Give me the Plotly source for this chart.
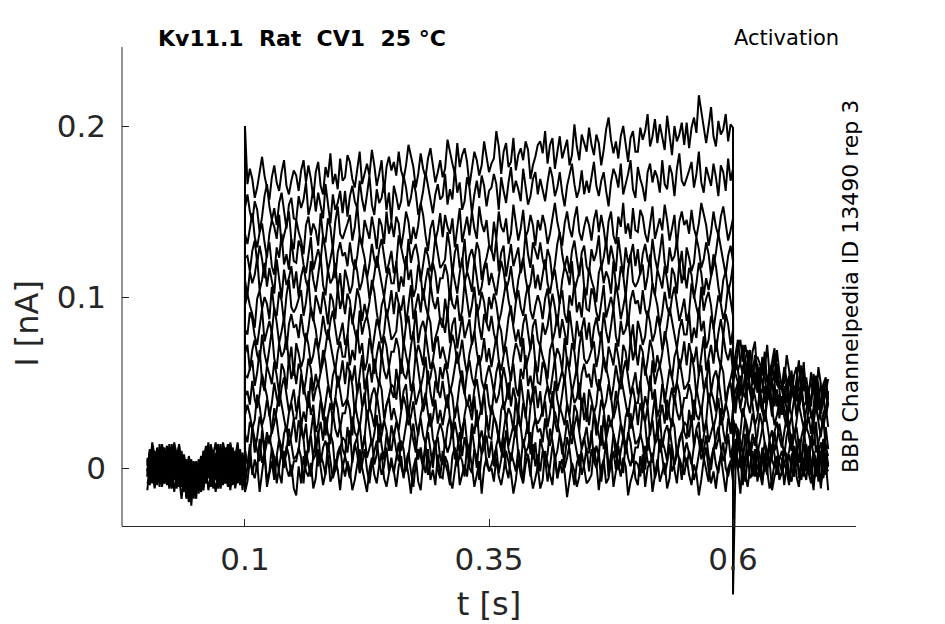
import numpy as np
import plotly.graph_objects as go

# sweep currents in pA, read off the figure, sampled every 2.5 ms
# pre: t = 0 .. 0.1 s (41 samples), step: 0.1 .. 0.6 s (201), tail: 0.6 .. 0.6975 s (40)
pre_01 = [-3, 10, 6, -4, -9, 2, 12, -7, 0, 5, -2, 13, 4, -8, -6, 2, -17, -2, 4, -4,
          -18, -1, -11, 10, 1, -2, 6, -9, -3, 14, 3, -7, 0, 11, -5, -1, 8, 2, -10, 5, 2]
step_01 = [200,
           166, 175, 169, 158, 164, 174, 182, 171, 163, 157, 170, 177, 167, 162, 173, 180, 165, 160, 168, 174,
           171, 162, 174, 180, 167, 177, 169, 158, 173, 179, 165, 160, 176, 170, 184, 166, 172, 163, 181, 168,
           170, 183, 179, 169, 164, 175, 185, 166, 173, 178, 171, 186, 177, 165, 172, 180, 161, 176, 182, 174,
           179, 171, 185, 174, 169, 177, 189, 183, 176, 164, 172, 184, 175, 170, 181, 187, 178, 167, 173, 180,
           170, 175, 192, 184, 178, 172, 190, 176, 183, 187, 179, 165, 174, 185, 180, 171, 177, 191, 182, 173,
           178, 181, 197, 188, 172, 185, 190, 176, 179, 193, 174, 183, 187, 180, 191, 186, 169, 177, 182, 189,
           191, 184, 197, 178, 189, 193, 175, 186, 194, 181, 187, 192, 177, 183, 201, 188, 180, 195, 190, 185,
           199, 189, 183, 195, 190, 177, 186, 198, 205, 192, 184, 191, 181, 194, 200, 188, 179, 193, 197, 185,
           185, 199, 192, 197, 207, 188, 194, 204, 190, 201, 193, 186, 206, 196, 183, 200, 191, 195, 202, 189,
           202, 187, 199, 205, 196, 218, 208, 197, 190, 200, 211, 194, 188, 203, 195, 198, 207, 191, 201, 199]
tail_01 = [57, 66, 75, 61, 55, 64, 69, 58, 49, 63, 65, 61, 54, 68, 50, 56, 62, 70, 53, 48,
           46, 59, 52, 48, 57, 40, 53, 63, 43, 50, 53, 42, 56, 46, 40, 59, 49, 44, 51, 37]

pre_02 = [5, -10, 2, 8, -1, -5, 11, 0, -7, 3, 14, -3, -9, 6, -7, -4, 5, -11, -1, -18,
          0, -7, 6, -8, 3, 7, -11, 0, 8, -5, 1, 6, -9, -3, 15, 2, -6, 9, 4, -1, -1]
step_02 = [152,
           160, 150, 144, 156, 151, 138, 147, 159, 166, 153, 145, 152, 142, 155, 161, 149, 140, 154, 158, 146,
           145, 159, 152, 157, 167, 148, 154, 164, 150, 161, 153, 146, 166, 156, 143, 160, 151, 155, 162, 149,
           162, 147, 159, 165, 156, 152, 168, 157, 150, 160, 171, 154, 148, 163, 155, 158, 167, 151, 161, 144,
           165, 159, 151, 156, 171, 164, 153, 158, 168, 161, 148, 154, 162, 173, 165, 155, 149, 160, 166, 157,
           159, 172, 154, 163, 157, 175, 161, 167, 151, 156, 170, 164, 149, 160, 168, 158, 171, 165, 153, 162,
           164, 172, 166, 151, 170, 162, 155, 167, 176, 161, 168, 163, 156, 175, 165, 154, 159, 169, 173, 160,
           169, 162, 156, 167, 176, 170, 159, 164, 173, 161, 153, 165, 172, 178, 166, 158, 163, 174, 160, 168,
           161, 170, 179, 165, 159, 168, 173, 162, 153, 167, 175, 171, 164, 178, 160, 166, 172, 180, 163, 158,
           176, 169, 164, 156, 173, 178, 167, 174, 170, 161, 180, 166, 163, 177, 172, 159, 175, 184, 168, 165,
           169, 174, 179, 164, 172, 185, 167, 161, 176, 171, 165, 178, 170, 159, 177, 173, 162, 181, 168, 175]
tail_02 = [66, 57, 69, 75, 62, 72, 64, 53, 68, 74, 53, 48, 64, 58, 72, 54, 60, 51, 69, 56,
           47, 50, 66, 57, 41, 54, 59, 45, 48, 62, 37, 46, 50, 43, 54, 49, 32, 40, 45, 52]

pre_03 = [-1, 4, 9, -6, 2, 10, -3, -9, 6, 1, -5, 8, 0, -11, 2, -2, -13, 6, -7, 0,
          -1, -8, -14, 2, 11, 5, -6, -1, 8, -4, -12, 0, 7, 13, 1, -7, -2, 9, -5, 3, 1]
step_03 = [137,
           131, 140, 149, 135, 129, 138, 143, 132, 123, 137, 145, 141, 134, 148, 130, 136, 142, 150, 133, 128,
           145, 138, 133, 125, 142, 147, 136, 143, 139, 130, 149, 135, 132, 146, 141, 128, 144, 153, 137, 134,
           138, 143, 148, 133, 141, 154, 136, 130, 145, 140, 134, 147, 139, 128, 146, 142, 131, 150, 137, 144,
           135, 147, 143, 129, 138, 150, 144, 131, 141, 134, 142, 155, 148, 136, 127, 140, 145, 133, 139, 149,
           135, 148, 141, 137, 146, 129, 142, 152, 132, 139, 147, 136, 150, 140, 134, 153, 143, 138, 145, 131,
           127, 144, 134, 150, 141, 138, 146, 131, 137, 154, 143, 133, 140, 151, 135, 139, 148, 142, 130, 145,
           139, 148, 142, 131, 137, 147, 155, 144, 136, 130, 143, 150, 140, 135, 146, 153, 138, 133, 141, 147,
           142, 133, 145, 151, 138, 148, 140, 129, 144, 150, 136, 131, 147, 141, 155, 137, 143, 134, 152, 139,
           138, 151, 147, 137, 132, 143, 153, 134, 141, 146, 139, 154, 145, 133, 140, 148, 129, 144, 150, 142,
           145, 137, 151, 140, 135, 143, 155, 149, 142, 130, 138, 150, 141, 136, 147, 153, 144, 133, 139, 146]
tail_03 = [50, 64, 57, 62, 72, 53, 59, 69, 55, 66, 52, 45, 65, 55, 42, 59, 50, 54, 61, 48,
           48, 56, 50, 35, 54, 46, 39, 51, 60, 45, 48, 43, 36, 55, 45, 34, 39, 49, 53, 40]

pre_04 = [3, -5, 9, -2, -7, 1, 13, 7, 0, -12, -4, 8, -1, -6, 0, 6, -3, -14, -8, -1,
          -7, 2, -4, -10, -4, 6, 14, 3, -5, -11, 2, 9, -1, -6, 5, 12, -3, -8, 0, 6, -2]
step_04 = [123,
           124, 115, 127, 133, 120, 130, 122, 111, 126, 132, 118, 113, 129, 123, 137, 119, 125, 116, 134, 121,
           120, 133, 129, 119, 114, 125, 135, 116, 123, 128, 121, 136, 127, 115, 122, 130, 111, 126, 132, 124,
           126, 118, 132, 121, 116, 124, 136, 130, 123, 111, 119, 131, 122, 117, 128, 134, 125, 114, 120, 127,
           114, 119, 136, 128, 122, 116, 134, 120, 127, 131, 123, 109, 118, 129, 124, 115, 121, 135, 126, 117,
           119, 122, 138, 129, 113, 126, 131, 117, 120, 134, 115, 124, 128, 121, 132, 127, 110, 118, 123, 130,
           128, 121, 134, 115, 126, 130, 112, 123, 131, 118, 124, 129, 114, 120, 138, 125, 117, 132, 127, 122,
           132, 122, 116, 128, 123, 110, 119, 131, 138, 125, 117, 124, 114, 127, 133, 121, 112, 126, 130, 118,
           114, 128, 121, 126, 136, 117, 123, 133, 119, 130, 122, 115, 135, 125, 112, 129, 120, 124, 131, 118,
           128, 113, 125, 131, 122, 118, 134, 123, 116, 126, 137, 120, 114, 129, 121, 124, 133, 117, 127, 110,
           129, 123, 115, 120, 135, 128, 117, 122, 132, 125, 112, 118, 126, 137, 129, 119, 113, 124, 130, 121]
tail_04 = [62, 55, 50, 42, 59, 64, 53, 60, 56, 47, 61, 47, 44, 58, 53, 40, 56, 65, 49, 46,
           31, 48, 38, 54, 45, 42, 50, 35, 41, 58, 43, 33, 40, 51, 35, 39, 48, 42, 30, 45]

pre_05 = [6, 0, -8, -3, 12, 5, -6, -1, 9, 2, -11, -5, 3, 14, 1, -9, -15, -4, 2, -7,
          4, -6, -12, 5, 0, -13, -4, 8, 15, 2, -6, 1, -9, 4, 10, -2, -11, 3, 7, -5, 3]
step_05 = [110,
           101, 115, 108, 113, 123, 104, 110, 120, 106, 117, 109, 102, 122, 112, 99, 116, 107, 111, 118, 105,
           115, 100, 112, 118, 109, 105, 121, 110, 103, 113, 124, 107, 101, 116, 108, 111, 120, 104, 114, 97,
           116, 110, 102, 107, 122, 115, 104, 109, 119, 112, 99, 105, 113, 124, 116, 106, 100, 111, 117, 108,
           108, 121, 103, 112, 106, 124, 110, 116, 100, 105, 119, 113, 98, 109, 117, 107, 120, 114, 102, 111,
           111, 119, 113, 98, 117, 109, 102, 114, 123, 108, 115, 110, 103, 122, 112, 101, 106, 116, 120, 107,
           114, 107, 101, 112, 121, 115, 104, 109, 118, 106, 98, 110, 117, 123, 111, 103, 108, 119, 105, 113,
           104, 113, 122, 108, 102, 111, 116, 105, 96, 110, 118, 114, 107, 121, 103, 109, 115, 123, 106, 101,
           117, 110, 105, 97, 114, 119, 108, 115, 111, 102, 121, 107, 104, 118, 113, 100, 116, 125, 109, 106,
           109, 114, 119, 104, 112, 125, 107, 101, 116, 111, 105, 118, 110, 99, 117, 113, 102, 121, 108, 115,
           105, 117, 113, 99, 108, 120, 114, 101, 111, 104, 112, 125, 118, 106, 97, 110, 115, 103, 109, 119]
tail_05 = [48, 61, 57, 47, 42, 53, 63, 44, 51, 56, 44, 59, 50, 38, 45, 53, 34, 49, 55, 47,
           46, 39, 52, 33, 44, 48, 30, 41, 49, 36, 39, 44, 29, 35, 53, 40, 32, 47, 42, 37]

pre_06 = [-5, 7, 3, -11, -2, 10, 4, -9, 1, -6, 2, 15, 8, -4, -18, -5, 0, -12, -6, 4,
          -11, -2, 7, -2, -8, 1, 6, -5, -14, 0, 8, 4, -3, 11, -7, -1, 5, 13, -4, -9, 0]
step_06 = [95,
           102, 95, 90, 82, 99, 104, 93, 100, 96, 87, 106, 92, 89, 103, 98, 85, 101, 110, 94, 91,
           94, 99, 104, 89, 97, 110, 92, 86, 101, 96, 90, 103, 95, 84, 102, 98, 87, 106, 93, 100,
           90, 102, 98, 84, 93, 105, 99, 86, 96, 89, 97, 110, 103, 91, 82, 95, 100, 88, 94, 104,
           90, 103, 96, 92, 101, 84, 97, 107, 87, 94, 102, 91, 105, 95, 89, 108, 98, 93, 100, 86,
           82, 99, 89, 105, 96, 93, 101, 86, 92, 109, 98, 88, 95, 106, 90, 94, 103, 97, 85, 100,
           93, 102, 96, 85, 91, 101, 109, 98, 90, 84, 97, 104, 94, 89, 100, 107, 92, 87, 95, 101,
           96, 87, 99, 105, 92, 102, 94, 83, 98, 104, 90, 85, 101, 95, 109, 91, 97, 88, 106, 93,
           92, 105, 101, 91, 86, 97, 107, 88, 95, 100, 93, 108, 99, 87, 94, 102, 83, 98, 104, 96,
           98, 90, 104, 93, 88, 96, 108, 102, 95, 83, 91, 103, 94, 89, 100, 106, 97, 86, 92, 99,
           86, 91, 108, 100, 94, 88, 106, 92, 99, 103, 95, 81, 90, 101, 96, 87, 93, 107, 98, 89]
tail_06 = [51, 36, 48, 54, 45, 41, 57, 46, 39, 49, 56, 39, 33, 48, 40, 43, 52, 36, 46, 29,
           42, 35, 29, 40, 49, 43, 32, 37, 46, 34, 23, 35, 42, 48, 36, 28, 33, 44, 30, 38]

pre_07 = [-9, -4, 13, 5, -1, -7, 11, -3, 4, 8, 0, -14, -5, 6, -4, -13, -7, 7, -2, -11,
          -4, -13, -1, 10, -3, 7, -1, -12, 3, 9, -5, -10, 6, 0, 14, -4, 2, -7, 11, -2, 1]
step_07 = [81,
           78, 91, 87, 77, 72, 83, 93, 74, 81, 86, 79, 94, 85, 73, 80, 88, 69, 84, 90, 82,
           84, 76, 90, 79, 74, 82, 94, 88, 81, 69, 77, 89, 80, 75, 86, 92, 83, 72, 78, 85,
           72, 77, 94, 86, 80, 74, 92, 78, 85, 89, 81, 67, 76, 87, 82, 73, 79, 93, 84, 75,
           77, 80, 96, 87, 71, 84, 89, 75, 78, 92, 73, 82, 86, 79, 90, 85, 68, 76, 81, 88,
           86, 79, 92, 73, 84, 88, 70, 81, 89, 76, 82, 87, 72, 78, 96, 83, 75, 90, 85, 80,
           89, 79, 73, 85, 80, 67, 76, 88, 95, 82, 74, 81, 71, 84, 90, 78, 69, 83, 87, 75,
           71, 85, 78, 83, 93, 74, 80, 90, 76, 87, 79, 72, 92, 82, 69, 86, 77, 81, 88, 75,
           85, 70, 82, 88, 79, 75, 91, 80, 73, 83, 94, 77, 71, 86, 78, 81, 90, 74, 84, 67,
           86, 80, 72, 77, 92, 85, 74, 79, 89, 82, 69, 75, 83, 94, 86, 76, 70, 81, 87, 78,
           78, 91, 73, 82, 76, 94, 80, 86, 70, 75, 89, 83, 68, 79, 87, 77, 90, 84, 72, 81]
tail_07 = [40, 45, 50, 35, 43, 56, 38, 32, 47, 42, 33, 46, 38, 27, 45, 41, 30, 49, 36, 43,
           32, 41, 35, 24, 30, 40, 48, 37, 29, 23, 34, 41, 31, 26, 37, 44, 29, 24, 32, 38]

pre_08 = [-2, 11, -7, 2, -4, 14, 0, 6, -10, -5, 9, 3, -12, -1, 2, -8, 5, -1, -13, -4,
          -14, 0, -7, 3, 13, -6, 0, 10, -4, 7, -1, -8, 12, 2, -11, 6, -3, 1, 8, -5, -1]
step_08 = [67,
           72, 57, 69, 75, 66, 62, 78, 67, 60, 70, 81, 64, 58, 73, 65, 68, 77, 61, 71, 54,
           73, 67, 59, 64, 79, 72, 61, 66, 76, 69, 56, 62, 70, 81, 73, 63, 57, 68, 74, 65,
           65, 78, 60, 69, 63, 81, 67, 73, 57, 62, 76, 70, 55, 66, 74, 64, 77, 71, 59, 68,
           68, 76, 70, 55, 74, 66, 59, 71, 80, 65, 72, 67, 60, 79, 69, 58, 63, 73, 77, 64,
           71, 64, 58, 69, 78, 72, 61, 66, 75, 63, 55, 67, 74, 80, 68, 60, 65, 76, 62, 70,
           59, 68, 77, 63, 57, 66, 71, 60, 51, 65, 73, 69, 62, 76, 58, 64, 70, 78, 61, 56,
           72, 65, 60, 52, 69, 74, 63, 70, 66, 57, 76, 62, 59, 73, 68, 55, 71, 80, 64, 61,
           64, 69, 74, 59, 67, 80, 62, 56, 71, 66, 60, 73, 65, 54, 72, 68, 57, 76, 63, 70,
           60, 72, 68, 54, 63, 75, 69, 56, 66, 59, 67, 80, 73, 61, 52, 65, 70, 58, 64, 74,
           60, 73, 66, 62, 71, 54, 67, 77, 57, 64, 72, 61, 75, 65, 59, 78, 68, 63, 70, 56]
tail_08 = [40, 32, 46, 35, 30, 38, 50, 44, 37, 25, 30, 42, 33, 28, 39, 45, 36, 25, 31, 38,
           40, 30, 24, 36, 31, 18, 27, 39, 46, 33, 23, 30, 20, 33, 39, 27, 18, 32, 36, 24]

pre_09 = [-5, 8, 1, -3, 6, -11, 2, 12, -8, -1, 7, -4, 10, 0, -11, 8, -2, -7, 0, -14,
          2, -5, -10, -13, 4, 9, -2, 5, 1, -8, 11, -3, -6, 8, 3, -10, 6, 15, -1, -4, 0]
step_09 = [54,
           53, 58, 63, 48, 56, 69, 51, 45, 60, 55, 49, 62, 54, 43, 61, 57, 46, 65, 52, 59,
           49, 61, 57, 43, 52, 64, 58, 45, 55, 48, 56, 69, 62, 50, 41, 54, 59, 47, 53, 63,
           49, 62, 55, 51, 60, 43, 56, 66, 46, 53, 61, 50, 64, 54, 48, 67, 57, 52, 59, 45,
           41, 58, 48, 64, 55, 52, 60, 45, 51, 68, 57, 47, 54, 65, 49, 53, 62, 56, 44, 59,
           52, 61, 55, 44, 50, 60, 68, 57, 49, 43, 56, 63, 53, 48, 59, 66, 51, 46, 54, 60,
           53, 44, 56, 62, 49, 59, 51, 40, 55, 61, 47, 42, 58, 52, 66, 48, 54, 45, 63, 50,
           49, 62, 58, 48, 43, 54, 64, 45, 52, 57, 50, 65, 56, 44, 51, 59, 40, 55, 61, 53,
           55, 47, 61, 50, 45, 53, 65, 59, 52, 40, 48, 60, 51, 46, 57, 63, 54, 43, 49, 56,
           43, 48, 65, 57, 51, 45, 63, 49, 56, 60, 52, 38, 47, 58, 53, 44, 50, 64, 55, 46,
           48, 51, 67, 58, 42, 55, 60, 46, 49, 63, 44, 53, 57, 50, 61, 56, 39, 47, 52, 59]
tail_09 = [29, 23, 15, 20, 35, 28, 17, 22, 32, 25, 9, 15, 23, 34, 26, 16, 10, 21, 27, 18,
           12, 21, 30, 16, 10, 19, 24, 13, 4, 18, 24, 20, 13, 27, 9, 15, 21, 29, 12, 7]

pre_10 = [-4, -1, 15, 6, -10, 3, 8, -6, -3, 11, -8, 1, 5, -2, 4, -1, -18, -10, -5, 2,
          -8, 5, 1, -4, -9, 2, 12, -7, 0, 5, -2, 13, 4, -8, -1, 7, -12, 3, 9, 1, 1]
step_10 = [42,
           45, 37, 51, 40, 35, 43, 55, 49, 42, 30, 38, 50, 41, 36, 47, 53, 44, 33, 39, 46,
           33, 38, 55, 47, 41, 35, 53, 39, 46, 50, 42, 28, 37, 48, 43, 34, 40, 54, 45, 36,
           38, 41, 57, 48, 32, 45, 50, 36, 39, 53, 34, 43, 47, 40, 51, 46, 29, 37, 42, 49,
           47, 40, 53, 34, 45, 49, 31, 42, 50, 37, 43, 48, 33, 39, 57, 44, 36, 51, 46, 41,
           51, 41, 35, 47, 42, 29, 38, 50, 57, 44, 36, 43, 33, 46, 52, 40, 31, 45, 49, 37,
           31, 45, 38, 43, 53, 34, 40, 50, 36, 47, 39, 32, 52, 42, 29, 46, 37, 41, 48, 35,
           45, 30, 42, 48, 39, 35, 51, 40, 33, 43, 54, 37, 31, 46, 38, 41, 50, 34, 44, 27,
           46, 40, 32, 37, 52, 45, 34, 39, 49, 42, 29, 35, 43, 54, 46, 36, 30, 41, 47, 38,
           38, 51, 33, 42, 36, 54, 40, 46, 30, 35, 49, 43, 28, 39, 47, 37, 50, 44, 32, 41,
           41, 49, 43, 28, 47, 39, 32, 44, 53, 38, 45, 40, 33, 52, 42, 31, 36, 46, 50, 37]
tail_10 = [14, 26, 22, 8, 17, 29, 23, 10, 20, 13, 19, 32, 25, 13, 4, 17, 22, 10, 16, 26,
           16, 7, 19, 25, 12, 22, 14, 3, 18, 24, 8, 3, 19, 13, 27, 9, 15, 6, 24, 11]

pre_11 = [1, 9, 3, -12, 7, -1, -8, 4, 13, -2, 5, 0, -7, 12, -3, -14, -9, 1, 5, -8,
          0, -15, -3, 8, -1, -5, 11, 0, -7, 3, 14, -3, -9, 6, -2, 1, 10, -6, 4, -13, 2]
step_11 = [31,
           37, 31, 23, 28, 43, 36, 25, 30, 40, 33, 20, 26, 34, 45, 37, 27, 21, 32, 38, 29,
           29, 42, 24, 33, 27, 45, 31, 37, 21, 26, 40, 34, 19, 30, 38, 28, 41, 35, 23, 32,
           32, 40, 34, 19, 38, 30, 23, 35, 44, 29, 36, 31, 24, 43, 33, 22, 27, 37, 41, 28,
           35, 28, 22, 33, 42, 36, 25, 30, 39, 27, 19, 31, 38, 44, 32, 24, 29, 40, 26, 34,
           25, 34, 43, 29, 23, 32, 37, 26, 17, 31, 39, 35, 28, 42, 24, 30, 36, 44, 27, 22,
           37, 30, 25, 17, 34, 39, 28, 35, 31, 22, 41, 27, 24, 38, 33, 20, 36, 45, 29, 26,
           29, 34, 39, 24, 32, 45, 27, 21, 36, 31, 25, 38, 30, 19, 37, 33, 22, 41, 28, 35,
           25, 37, 33, 19, 28, 40, 34, 21, 31, 24, 32, 45, 38, 26, 17, 30, 35, 23, 29, 39,
           25, 38, 31, 27, 36, 19, 32, 42, 22, 29, 37, 26, 40, 30, 24, 43, 33, 28, 35, 21,
           17, 34, 24, 40, 31, 28, 36, 21, 27, 44, 33, 23, 30, 41, 25, 29, 38, 32, 20, 35]
tail_11 = [1, 6, 23, 15, 9, 3, 21, 7, 14, 18, 9, -5, 4, 15, 10, 1, 7, 21, 12, 3,
           -2, 12, 5, 10, 20, 1, 7, 17, 3, 14, 5, -2, 18, 8, -5, 12, 3, 7, 14, 1]

pre_12 = [-13, 4, -6, 10, 1, -2, 6, -9, -3, 14, 3, -7, 0, 11, -10, -6, 3, -3, -15, 0,
          -6, -1, 4, -6, 2, 15, -3, -9, 6, 1, -5, 8, 0, -11, 7, 3, -8, 11, -2, 5, -1]
step_12 = [20,
           15, 27, 23, 9, 18, 30, 24, 11, 21, 14, 22, 35, 28, 16, 7, 20, 25, 13, 19, 29,
           15, 28, 21, 17, 26, 9, 22, 32, 12, 19, 27, 16, 30, 20, 14, 33, 23, 18, 25, 11,
           7, 24, 14, 30, 21, 18, 26, 11, 17, 34, 23, 13, 20, 31, 15, 19, 28, 22, 10, 25,
           18, 27, 21, 10, 16, 26, 34, 23, 15, 9, 22, 29, 19, 14, 25, 32, 17, 12, 20, 26,
           21, 12, 24, 30, 17, 27, 19, 8, 23, 29, 15, 10, 26, 20, 34, 16, 22, 13, 31, 18,
           17, 30, 26, 16, 11, 22, 32, 13, 20, 25, 18, 33, 24, 12, 19, 27, 8, 23, 29, 21,
           23, 15, 29, 18, 13, 21, 33, 27, 20, 8, 16, 28, 19, 14, 25, 31, 22, 11, 17, 24,
           11, 16, 33, 25, 19, 13, 31, 17, 24, 28, 20, 6, 15, 26, 21, 12, 18, 32, 23, 14,
           16, 19, 35, 26, 10, 23, 28, 14, 17, 31, 12, 21, 25, 18, 29, 24, 7, 15, 20, 27,
           25, 18, 31, 12, 23, 27, 9, 20, 28, 15, 21, 26, 11, 17, 35, 22, 14, 29, 24, 19]
tail_12 = [4, 17, -1, 8, 2, 20, 6, 12, -4, 1, 13, 7, -8, 3, 11, 1, 14, 8, -4, 5,
           10, 3, -2, -10, 7, 12, 1, 8, 4, -5, 13, -1, -4, 10, 5, -8, 8, 17, 1, -2]

pre_13 = [5, -2, 11, -8, 3, 7, -11, 0, 8, -5, 1, 6, -9, -3, 10, -3, -11, 4, -1, -6,
          -2, -10, 4, -2, -7, 1, 13, 7, 0, -12, -4, 8, -1, -6, 5, 11, 2, -9, -3, 4, 0]
step_13 = [11,
           2, 7, 24, 16, 10, 4, 22, 8, 15, 19, 11, -3, 6, 17, 12, 3, 9, 23, 14, 5,
           7, 10, 26, 17, 1, 14, 19, 5, 8, 22, 3, 12, 16, 9, 20, 15, -2, 6, 11, 18,
           16, 9, 22, 3, 14, 18, 0, 11, 19, 6, 12, 17, 2, 8, 26, 13, 5, 20, 15, 10,
           20, 10, 4, 16, 11, -2, 7, 19, 26, 13, 5, 12, 2, 15, 21, 9, 0, 14, 18, 6,
           2, 16, 9, 14, 24, 5, 11, 21, 7, 18, 10, 3, 23, 13, 0, 17, 8, 12, 19, 6,
           16, 1, 13, 19, 10, 6, 22, 11, 4, 14, 25, 8, 2, 17, 9, 12, 21, 5, 15, -2,
           17, 11, 3, 8, 23, 16, 5, 10, 20, 13, 0, 6, 14, 25, 17, 7, 1, 12, 18, 9,
           9, 22, 4, 13, 7, 25, 11, 17, 1, 6, 20, 14, -1, 10, 18, 8, 21, 15, 3, 12,
           12, 20, 14, -1, 18, 10, 3, 15, 24, 9, 16, 11, 4, 23, 13, 2, 7, 17, 21, 8,
           15, 8, 2, 13, 22, 16, 5, 10, 19, 7, -1, 11, 18, 24, 12, 4, 9, 20, 6, 14]
tail_13 = [-2, 11, 4, 0, 9, -8, 5, 15, -5, 2, 9, -2, 12, 2, -4, 15, 5, 0, 7, -7,
           -2, 11, 7, -3, -8, 3, 13, -6, 1, 6, -2, 13, 4, -8, -1, 7, -12, 3, 9, 1]

pre_14 = [4, -3, -9, 2, 11, 5, -6, -1, 8, -4, -12, 0, 7, 13, -4, -12, -7, 4, -22, -2,
          1, -5, -13, -3, 12, 5, -6, -1, 9, 2, -11, -5, 3, 14, 6, -4, -10, 1, 7, -2, 0]
step_14 = [-10,
           1, 14, -4, 5, -1, 17, 3, 9, -7, -2, 12, 6, -9, 2, 10, 0, 13, 7, -5, 4,
           4, 12, 6, -9, 10, 2, -5, 7, 16, 1, 8, 3, -4, 15, 5, -6, -1, 9, 13, 0,
           7, 0, -6, 5, 14, 8, -3, 2, 11, -1, -9, 3, 10, 16, 4, -4, 1, 12, -2, 6,
           -3, 6, 15, 1, -5, 4, 9, -2, -11, 3, 11, 7, 0, 14, -4, 2, 8, 16, -1, -6,
           10, 3, -2, -10, 7, 12, 1, 8, 4, -5, 14, 0, -3, 11, 6, -7, 9, 18, 2, -1,
           2, 7, 12, -3, 5, 18, 0, -6, 9, 4, -2, 11, 3, -8, 10, 6, -5, 14, 1, 8,
           -2, 10, 6, -8, 1, 13, 7, -6, 4, -3, 5, 18, 11, -1, -10, 3, 8, -4, 2, 12,
           -2, 11, 4, 0, 9, -8, 5, 15, -5, 2, 10, -1, 13, 3, -3, 16, 6, 1, 8, -6,
           -10, 7, -3, 13, 4, 1, 9, -6, 0, 17, 6, -4, 3, 14, -2, 2, 11, 5, -7, 8,
           1, 10, 4, -7, -1, 9, 17, 6, -2, -8, 5, 12, 2, -3, 8, 15, 0, -5, 3, 9]
tail_14 = [-74, -1, 15, 6, -10, 3, 8, -6, -3, 11, -8, 1, 5, -2, 9, 4, -13, -5, 0, 7,
           5, -10, 2, 8, -1, -5, 11, 0, -7, 3, 14, -3, -9, 6, -2, 1, 10, -6, 4, -13]

pre_15 = [-2, 7, 1, -10, -4, 6, 14, 3, -5, -11, 2, 9, -1, -6, 0, 7, -8, -20, -5, 1,
          -10, 2, -2, -11, -2, 10, 4, -9, 1, -6, 2, 15, 8, -4, -13, 0, 5, -7, -1, 9, -1]
step_15 = [-14,
           -8, 5, -2, -6, 3, -14, -1, 9, -11, -4, 4, -7, 7, -3, -9, 10, 0, -5, 2, -12,
           -16, 1, -9, 7, -2, -5, 3, -12, -6, 11, 0, -10, -3, 8, -8, -4, 5, -1, -13, 2,
           -5, 4, -2, -13, -7, 3, 11, 0, -8, -14, -1, 6, -4, -9, 2, 9, -6, -11, -3, 3,
           -2, -11, 1, 7, -6, 4, -4, -15, 0, 6, -8, -13, 3, -3, 11, -7, -1, -10, 8, -5,
           -6, 7, 3, -7, -12, -1, 9, -10, -3, 2, -5, 10, 1, -11, -4, 4, -15, 0, 6, -2,
           0, -8, 6, -5, -10, -2, 10, 4, -3, -15, -7, 5, -4, -9, 2, 8, -1, -12, -6, 1,
           -12, -7, 10, 2, -4, -10, 8, -6, 1, 5, -3, -17, -8, 3, -2, -11, -5, 9, 0, -9,
           -7, -4, 12, 3, -13, 0, 5, -9, -6, 8, -11, -2, 2, -5, 6, 1, -16, -8, -3, 4,
           2, -5, 8, -11, 0, 4, -14, -3, 5, -8, -2, 3, -12, -6, 12, -1, -9, 6, 1, -4,
           6, -4, -10, 2, -3, -16, -7, 5, 12, -1, -9, -2, -12, 1, 7, -5, -14, 0, 4, -8]
tail_15 = [-2, 6, 0, -15, 4, -4, -11, 1, 10, -5, 2, -3, -10, 9, -1, -12, -7, 3, 7, -6,
           -3, 2, 7, -8, 0, 13, -5, -11, 4, -1, -7, 6, -2, -13, 5, 1, -10, 9, -4, 3]

x_tickvals = [0.1, 0.35, 0.6]
x_ticktext = ["0.1", "0.35", "0.6"]
y_tickvals = [0, 0.1, 0.2]
y_ticktext = ["0", "0.1", "0.2"]

sweeps = [
    (pre_01, step_01, tail_01), (pre_02, step_02, tail_02), (pre_03, step_03, tail_03),
    (pre_04, step_04, tail_04), (pre_05, step_05, tail_05), (pre_06, step_06, tail_06),
    (pre_07, step_07, tail_07), (pre_08, step_08, tail_08), (pre_09, step_09, tail_09),
    (pre_10, step_10, tail_10), (pre_11, step_11, tail_11), (pre_12, step_12, tail_12),
    (pre_13, step_13, tail_13), (pre_14, step_14, tail_14), (pre_15, step_15, tail_15),
]

# sampling grid of the recording
t_pre = np.linspace(0.0, 0.1, 41)
t_step = np.linspace(0.1, 0.6, 201)
t_tail = np.linspace(0.6, 0.6975, 40)
t_all = np.concatenate([t_pre, t_step, t_tail])

FONT = "DejaVu Sans"
AX = "#262626"

fig = go.Figure()
for n, (pre, step, tail) in enumerate(sweeps, 1):
    assert len(pre) == 41 and len(step) == 201 and len(tail) == 40, (n, len(pre), len(step), len(tail))
    i_na = np.array(pre + step + tail) / 1000.0  # pA -> nA
    fig.add_trace(go.Scatter(x=t_all, y=i_na, mode="lines",
                             line=dict(color="black", width=2),
                             hoverinfo="skip", showlegend=False))

# the page puts the figure 8 px in from the top-left corner
y_top = (468 - 47) / 1710
y_bot = (468 - 600) / 1710
y_axis_at = -0.034

fig.update_layout(
    width=937, height=616,
    margin=dict(l=114, r=89, t=39, b=24, autoexpand=False),
    plot_bgcolor="white", paper_bgcolor="white",
    showlegend=False,
    font=dict(family=FONT, color=AX),
    xaxis=dict(range=[-0.026, 0.726], anchor="free", automargin=False,
               position=(y_axis_at - y_bot) / (y_top - y_bot),
               showline=True, linecolor=AX, linewidth=1,
               ticks="inside", ticklen=7, tickcolor=AX, tickwidth=1,
               tickvals=x_tickvals, ticktext=x_ticktext, ticklabelstandoff=6,
               tickfont=dict(size=31, family=FONT, color=AX),
               showgrid=False, zeroline=False,
               title=dict(text="t [s]", font=dict(size=32, family=FONT, color=AX), standoff=16)),
    yaxis=dict(range=[y_bot, y_top], automargin=False,
               showline=False,
               ticks="inside", ticklen=7, tickcolor=AX, tickwidth=1,
               tickvals=y_tickvals, ticktext=y_ticktext, ticklabelstandoff=15,
               tickfont=dict(size=31, family=FONT, color=AX),
               showgrid=False, zeroline=False,
               title=dict(text="I [nA]", font=dict(size=32, family=FONT, color=AX), standoff=13)),
)

# y axis line only down to the x axis
fig.add_shape(type="line", xref="paper", yref="y", x0=0, x1=0, y0=y_axis_at, y1=y_top,
              line=dict(color=AX, width=1))

fig.add_annotation(text="<b>Kv11.1\u00a0\u00a0Rat\u00a0\u00a0CV1\u00a0\u00a025\u00a0°C</b>",
                   xref="paper", yref="paper", x=(156 - 122) / 734, y=1 + 9 / 553,
                   xanchor="left", yanchor="middle", showarrow=False,
                   font=dict(size=22, family=FONT, color="black"))
fig.add_annotation(text="Activation",
                   xref="paper", yref="paper", x=(841 - 122) / 734, y=1 + 9 / 553,
                   xanchor="right", yanchor="middle", showarrow=False,
                   font=dict(size=21, family=FONT, color="black"))
fig.add_annotation(text="BBP Channelpedia ID 13490 rep 3", textangle=-90,
                   xref="paper", yref="paper", x=(850 - 122) / 734, y=(600 - 287) / 553,
                   xanchor="center", yanchor="middle", showarrow=False,
                   font=dict(size=22, family=FONT, color="black"))

fig.write_html("out.html")
